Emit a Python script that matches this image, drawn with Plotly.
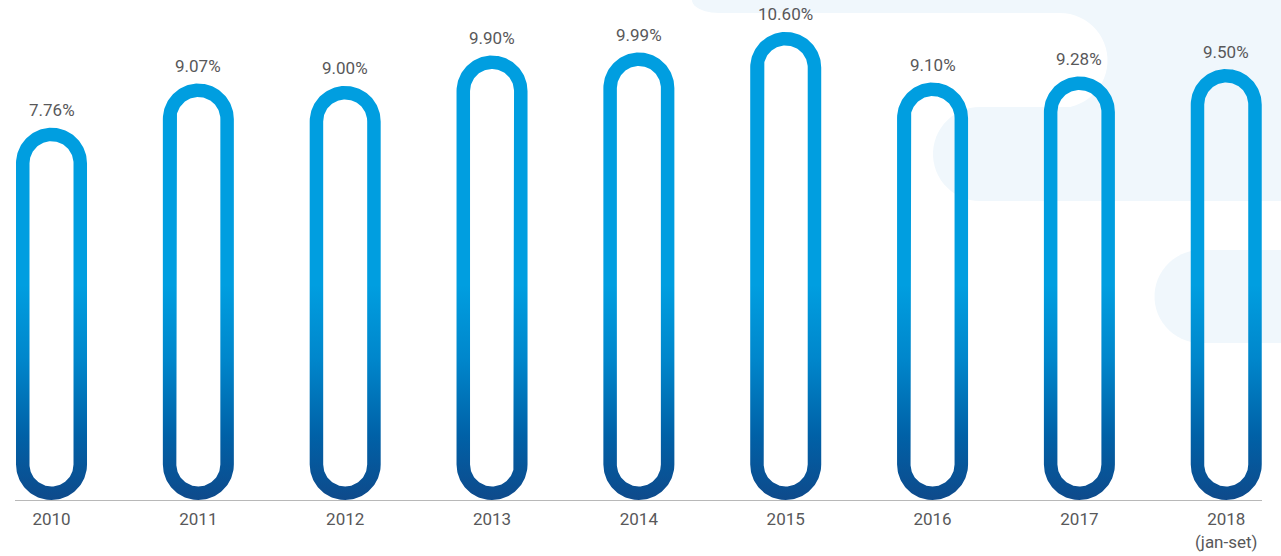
import numpy as np
import plotly.graph_objects as go

# ---- data ----
years = ["2010", "2011", "2012", "2013", "2014", "2015", "2016", "2017", "2018<br>(jan-set)"]
rates = [7.76, 9.07, 9.00, 9.90, 9.99, 10.60, 9.10, 9.28, 9.50]

# ---- layout geometry ----
W, H = 1281, 556
ML, MR, MT, MB = 15, 19, 0, 56
PW, PH = W - ML - MR, H - MT - MB
XR = [-0.2486, 8.2435]
YR = [-3.276, 11.547]
ppx = PW / (XR[1] - XR[0])   # pixels per x unit
ppy = PH / (YR[1] - YR[0])   # pixels per y unit

R_OUT = 35.5   # px
R_IN = 22.0    # px
BASE = YR[0]


def capsule(cx, y0, y1, r, ccw=True, n=40):
    rx, ry = r / ppx, r / ppy
    ybot, ytop = y0 + ry, y1 - ry
    xs, ys = [], []
    t = np.linspace(-np.pi / 2, 0, n)          # bottom right quarter
    xs += list(cx + rx * np.cos(t)); ys += list(ybot + ry * np.sin(t))
    t = np.linspace(0, np.pi, 2 * n)            # top half
    xs += list(cx + rx * np.cos(t)); ys += list(ytop + ry * np.sin(t))
    t = np.linspace(np.pi, 1.5 * np.pi, n)      # bottom left quarter
    xs += list(cx + rx * np.cos(t)); ys += list(ybot + ry * np.sin(t))
    if not ccw:
        xs, ys = xs[::-1], ys[::-1]
    return xs, ys


fig = go.Figure()

grad_stop = BASE + (500 - 285) / ppy
for i, v in enumerate(rates):
    ox, oy = capsule(i, BASE, v, R_OUT, ccw=True)
    d = (R_OUT - R_IN) / ppy
    ix, iy = capsule(i, BASE + d, v - d, R_IN, ccw=False)
    fig.add_trace(go.Scatter(
        x=ox + [None] + ix, y=oy + [None] + iy,
        mode="lines", fill="toself", line=dict(width=0, color="rgba(0,0,0,0)"),
        fillgradient=dict(type="vertical", start=BASE, stop=grad_stop,
                          colorscale=[[0, "#0e4a8b"], [0.3, "#0061a7"],
                                      [0.65, "#0086cb"], [1, "#009ee0"]]),
        hoverinfo="skip", showlegend=False,
    ))
    fig.add_annotation(x=i, y=v, text=f"{v:.2f}%", showarrow=False,
                       yanchor="middle", yshift=17.5,
                       font=dict(family="Roboto", size=17, color="#58585a"))

# ---- background decoration (pixel -> paper) ----
def px(x):
    return (x - ML) / PW

def py(y):
    return (H - MB - y) / PH

def path_from(pts):
    return "M " + " L ".join(f"{px(a):.5f},{py(b):.5f}" for a, b in pts) + " Z"

LIGHT = "#f0f7fc"
shapes = []
# top band with rounded lower-left corner
pts = [(692, 0), (1290, 0), (1290, 13), (719, 13)]
t = np.linspace(np.pi / 2, np.pi, 12)
pts += [(719 + 27 * np.cos(a), 0 + 13 * np.sin(a)) for a in t]
shapes.append(path_from(pts))
# right block around white pill end
t = np.linspace(0, np.pi, 30)
pts = [(1060, 13), (1290, 13), (1290, 108), (1060, 108)]
pts += [(1060 + 47.5 * np.sin(a), 60.5 + 47.5 * np.cos(a)) for a in t]
shapes.append(path_from(pts))
# middle pill
t = np.linspace(np.pi / 2, 1.5 * np.pi, 30)
shapes.append(path_from([(980, 201), (1290, 201), (1290, 107), (980, 107)] +
                        [(980 - 47 * np.sin(a - np.pi / 2), 154 - 47 * np.cos(a - np.pi / 2)) for a in t]))
# lower pill
shapes.append(path_from([(1290, 250), (1290, 343), (1201, 343)] +
                        [(1201 - 46.5 * np.sin(a), 296.5 + 46.5 * np.cos(a)) for a in np.linspace(0, np.pi, 30)] +
                        [(1201, 250)]))

for p in shapes:
    fig.add_shape(type="path", path=p, xref="paper", yref="paper",
                  fillcolor=LIGHT, line=dict(width=0), layer="below")

fig.update_layout(
    width=W, height=H,
    margin=dict(l=ML, r=MR, t=MT, b=MB),
    paper_bgcolor="white", plot_bgcolor="rgba(0,0,0,0)",
    showlegend=False,
    xaxis=dict(range=XR, tickmode="array", tickvals=list(range(len(years))),
               ticktext=years, showgrid=False, zeroline=False,
               showline=True, linecolor="#b8b8b8", linewidth=1, ticks="",
               ticklabelstandoff=4,
               tickfont=dict(family="Roboto", size=17, color="#58585a"),
               fixedrange=True),
    yaxis=dict(range=YR, visible=False, showgrid=False, zeroline=False, fixedrange=True),
)

fig.write_html("out.html", config={"displayModeBar": False})
